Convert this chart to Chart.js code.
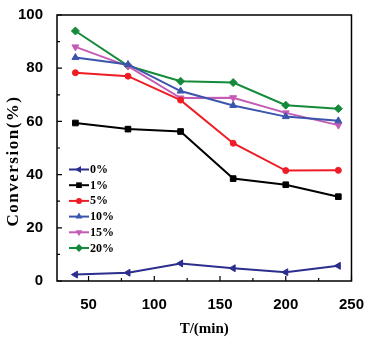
<!DOCTYPE html>
<html>
<head>
<meta charset="utf-8">
<script src="https://cdn.jsdelivr.net/npm/chart.js@4/dist/chart.umd.min.js"></script>
<style>
html,body{margin:0;padding:0;background:#fff;}
#wrap{width:371px;height:338px;}
</style>
</head>
<body>
<div id="wrap"><canvas id="c" width="371" height="338"></canvas></div>
<script>
const times = [40, 80, 120, 160, 200, 240];
const seriesNames = ['0%', '1%', '5%', '10%', '15%', '20%'];
const s0 = [2.4, 3.1, 6.6, 4.8, 3.3, 5.7];
const s1 = [59.4, 57.1, 56.2, 38.5, 36.2, 31.7];
const s5 = [78.3, 77.0, 68.0, 51.8, 41.5, 41.6];
const s10 = [84.0, 81.4, 71.4, 66.0, 61.8, 60.2];
const s15 = [88.0, 80.8, 68.8, 68.9, 63.2, 58.6];
const s20 = [94.0, 80.9, 75.1, 74.6, 66.1, 64.8];
const xTicks = [50, 100, 150, 200, 250];
const yTicks = [0, 20, 40, 60, 80, 100];
const yTitle = 'Conversion(%)';
const xTitle = 'T/(min)';

const styles = [
  {color:'#2b2e8c', point:'triangle', rot:-90},
  {color:'#000000', point:'rect', rot:0},
  {color:'#ee1d25', point:'circle', rot:0},
  {color:'#3b55ad', point:'triangle', rot:0},
  {color:'#c45cb6', point:'triangle', rot:180},
  {color:'#158a3a', point:'rectRot', rot:0}
];
const allSeries = [s0, s1, s5, s10, s15, s20];

const datasets = allSeries.map((s, i) => ({
  label: seriesNames[i],
  data: s.map((v, j) => ({x: times[j], y: v})),
  borderColor: styles[i].color,
  backgroundColor: styles[i].color,
  borderWidth: 2,
  pointStyle: styles[i].point,
  pointRotation: styles[i].rot,
  pointRadius: styles[i].point === 'circle' ? 3 : 4,
  pointBorderWidth: 1,
  tension: 0
}));

function drawMarker(ctx, style, rot, x, y, r) {
  ctx.save();
  ctx.translate(x, y);
  ctx.rotate(rot * Math.PI / 180);
  ctx.beginPath();
  if (style === 'circle') {
    ctx.arc(0, 0, r, 0, Math.PI * 2);
  } else if (style === 'rect') {
    const s = r * Math.SQRT1_2;
    ctx.rect(-s, -s, 2 * s, 2 * s);
  } else if (style === 'rectRot') {
    ctx.moveTo(0, -r); ctx.lineTo(r, 0); ctx.lineTo(0, r); ctx.lineTo(-r, 0);
  } else {
    for (let k = 0; k < 3; k++) {
      const a = -Math.PI / 2 + k * 2 * Math.PI / 3;
      const px = Math.cos(a) * r, py = Math.sin(a) * r;
      if (k === 0) ctx.moveTo(px, py); else ctx.lineTo(px, py);
    }
  }
  ctx.closePath();
  ctx.fill();
  ctx.restore();
}

const framePlugin = {
  id: 'frame',
  afterDraw(chart) {
    const {ctx, chartArea: a, scales} = chart;
    ctx.save();
    ctx.strokeStyle = '#000';
    ctx.lineWidth = 1.5;
    ctx.strokeRect(a.left, a.top, a.right - a.left, a.bottom - a.top);
    ctx.lineWidth = 1.2;
    ctx.beginPath();
    for (let v = 50; v <= 250; v += 25) {
      const px = scales.x.getPixelForValue(v);
      const len = (v % 50 === 0) ? 5 : 3;
      ctx.moveTo(px, a.bottom); ctx.lineTo(px, a.bottom - len);
    }
    for (let v = 0; v <= 100; v += 10) {
      const py = scales.y.getPixelForValue(v);
      const len = (v % 20 === 0) ? 5 : 3;
      ctx.moveTo(a.left, py); ctx.lineTo(a.left + len, py);
    }
    ctx.stroke();

    // legend inside plot
    const x0 = a.left + 12, x1 = a.left + 32;
    const yStart = a.top + 154.5, dy = 15.7;
    ctx.font = 'bold 12px "Liberation Serif", "Times New Roman", serif';
    ctx.textBaseline = 'middle';
    ctx.textAlign = 'left';
    chart.data.datasets.forEach((ds, i) => {
      const y = yStart + i * dy;
      ctx.strokeStyle = ds.borderColor;
      ctx.fillStyle = ds.borderColor;
      ctx.lineWidth = 2;
      ctx.beginPath(); ctx.moveTo(x0, y); ctx.lineTo(x1, y); ctx.stroke();
      drawMarker(ctx, ds.pointStyle, ds.pointRotation, (x0 + x1) / 2, y, ds.pointStyle === 'circle' ? 3 : 4);
      ctx.fillStyle = '#000';
      ctx.fillText(ds.label, x1 + 1, y + 0.5);
    });

    // y axis title, letter-spaced
    ctx.save();
    ctx.translate(14, (a.top + a.bottom) / 2 + 13);
    ctx.rotate(-Math.PI / 2);
    ctx.font = 'bold 17px "Liberation Serif", "Times New Roman", serif';
    try { ctx.letterSpacing = '1.5px'; } catch (e) {}
    ctx.textAlign = 'center';
    ctx.textBaseline = 'middle';
    ctx.fillStyle = '#000';
    ctx.fillText(yTitle, 0, 0);
    ctx.restore();
    ctx.restore();
  }
};

new Chart(document.getElementById('c'), {
  type: 'line',
  data: {datasets},
  options: {
    responsive: false,
    animation: false,
    layout: {padding: {left: 0, right: 16, top: 12, bottom: 0}},
    plugins: {legend: {display: false}, tooltip: {enabled: false}},
    scales: {
      x: {
        type: 'linear', min: 26, max: 250,
        afterBuildTicks: s => { s.ticks = xTicks.map(v => ({value: v})); },
        afterFit: s => { s.height = 57; },
        grid: {display: false},
        border: {display: false},
        ticks: {
          color: '#000', padding: 7, maxRotation: 0,
          font: {family: '"Liberation Sans Narrow", "Liberation Sans", Arial, sans-serif', size: 15, weight: 'bold'}
        },
        title: {
          display: true, text: xTitle, color: '#000', padding: {top: 3, bottom: 0},
          font: {family: '"Liberation Serif", "Times New Roman", serif', size: 15, weight: 'bold'}
        }
      },
      y: {
        min: 0, max: 100,
        afterBuildTicks: s => { s.ticks = yTicks.map(v => ({value: v})); },
        afterFit: s => { s.width = 57; },
        grid: {display: false},
        border: {display: false},
        ticks: {
          color: '#000', padding: 6,
          font: {family: '"Liberation Sans Narrow", "Liberation Sans", Arial, sans-serif', size: 15, weight: 'bold'}
        },
        title: {display: false}
      }
    }
  },
  plugins: [framePlugin]
});
</script>
</body>
</html>
